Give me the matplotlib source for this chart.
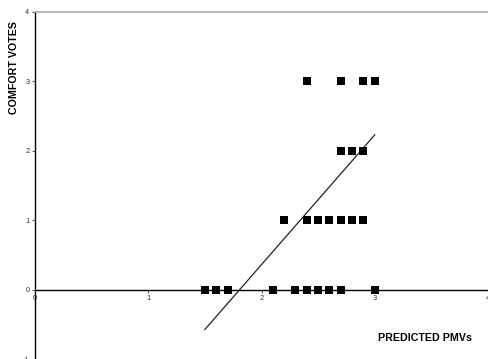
import matplotlib.pyplot as plt
import numpy as np

plt.rcParams['font.family'] = ['Liberation Sans', 'DejaVu Sans']

# observed comfort votes against predicted PMV
pmv = [1.5, 1.6, 1.7, 2.1, 2.3, 2.4, 2.5, 2.6, 2.7, 3.0,
       2.2, 2.4, 2.5, 2.6, 2.7, 2.8, 2.9,
       2.7, 2.8, 2.9,
       2.4, 2.7, 2.9, 3.0]
votes = [0, 0, 0, 0, 0, 0, 0, 0, 0, 0,
         1, 1, 1, 1, 1, 1, 1,
         2, 2, 2,
         3, 3, 3, 3]

# trend line as drawn on the chart
fit_slope = 1.87
fit_intercept = -3.38
fit_range = [1.5, 3.0]

fig = plt.figure(figsize=(4.88, 3.59), dpi=100)
ax = fig.add_axes([35 / 488, 0, 1 - 35 / 488, 347 / 359])

ax.scatter(pmv, votes, marker='s', s=34, color='black', zorder=3, linewidths=0)
xs = np.array(fit_range)
ax.plot(xs, fit_slope * xs + fit_intercept, color='#222222', lw=0.9, zorder=2)

ax.set_xlim(0, 4)
ax.set_ylim(-1, 4)
ax.set_xticks([0, 1, 2, 3, 4])
ax.set_yticks([-1, 0, 1, 2, 3, 4])

ax.spines['bottom'].set_position(('data', 0))
ax.spines['bottom'].set_linewidth(1.0)
ax.spines['left'].set_linewidth(1.0)
ax.spines['top'].set_color('#aaaaaa')
ax.spines['top'].set_linewidth(1.2)
ax.spines['right'].set_visible(False)
ax.tick_params(labelsize=5.3, length=2, width=0.6, pad=2, colors='#333333')

fig.text(14 / 488, 1 - 67 / 359, 'COMFORT VOTES', rotation=90, fontsize=7.7,
         fontweight='bold', ha='center', va='center')
fig.text(425 / 488, 1 - 338 / 359, 'PREDICTED PMVs', fontsize=7.7,
         fontweight='bold', ha='center', va='center')

fig.savefig('out.png', dpi=100)
